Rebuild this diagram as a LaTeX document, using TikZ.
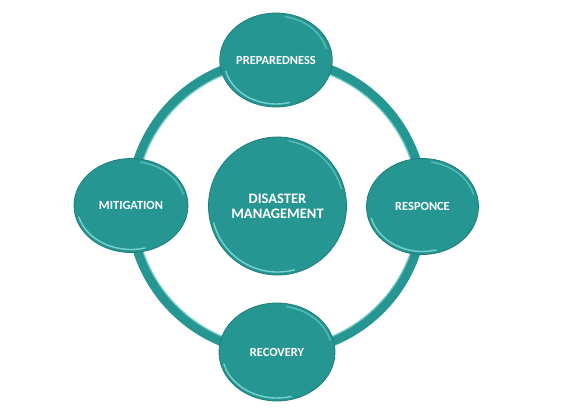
\documentclass[tikz,border=0pt]{standalone}
\usepackage{fontspec}
\setmainfont{Carlito}
\usetikzlibrary{shapes.geometric}
\definecolor{teal1}{RGB}{38,150,146}
\definecolor{tealdark}{RGB}{28,125,122}
\definecolor{teallight}{RGB}{140,225,222}
\tikzset{
  bubble/.style={ellipse, fill=teal1, draw=tealdark, line width=0.8pt, inner sep=0pt,
    text=white, font=\bfseries\fontsize{12.4}{14}\selectfont, align=center},
  hilite/.style={draw=teallight, line width=1.4pt, opacity=0.8, line cap=round}
}
\begin{document}
\begin{tikzpicture}[x=1pt,y=1pt]
\useasboundingbox (0,0) rectangle (565,408);
% ring
\coordinate (rc) at (277,202);
\draw[teal1, line width=10pt] (rc) circle[radius=146];
\draw[teallight, line width=1.2pt, opacity=0.7] (rc) circle[radius=141.5];
% nodes
\node[bubble, minimum width=110pt, minimum height=94pt] (prep) at (276,348) {PREPAREDNESS};
\node[bubble, minimum width=114pt, minimum height=94pt] (miti) at (131,202.5) {MITIGATION};
\node[bubble, minimum width=112pt, minimum height=96pt] (resp) at (422.5,201.5) {RESPONCE};
\node[bubble, minimum width=116pt, minimum height=98pt] (reco) at (277,56) {RECOVERY};
\node[bubble, circle, minimum size=138pt, font=\bfseries\fontsize{14.5}{15}\selectfont] (dm) at (277.5,202) {DISASTER\\MANAGEMENT};
% bevel highlights
\foreach \n/\rx/\ry in {prep/55/47, miti/57/47, resp/56/48, reco/58/49, dm/69/69}{
  \draw[hilite] ([shift={(195:{\rx-3} and {\ry-3})}]\n.center) arc[start angle=195, end angle=285, x radius={\rx-3}, y radius={\ry-3}];
  \draw[hilite, opacity=0.5] ([shift={(15:{\rx-3} and {\ry-3})}]\n.center) arc[start angle=15, end angle=80, x radius={\rx-3}, y radius={\ry-3}];
}
\end{tikzpicture}
\end{document}
